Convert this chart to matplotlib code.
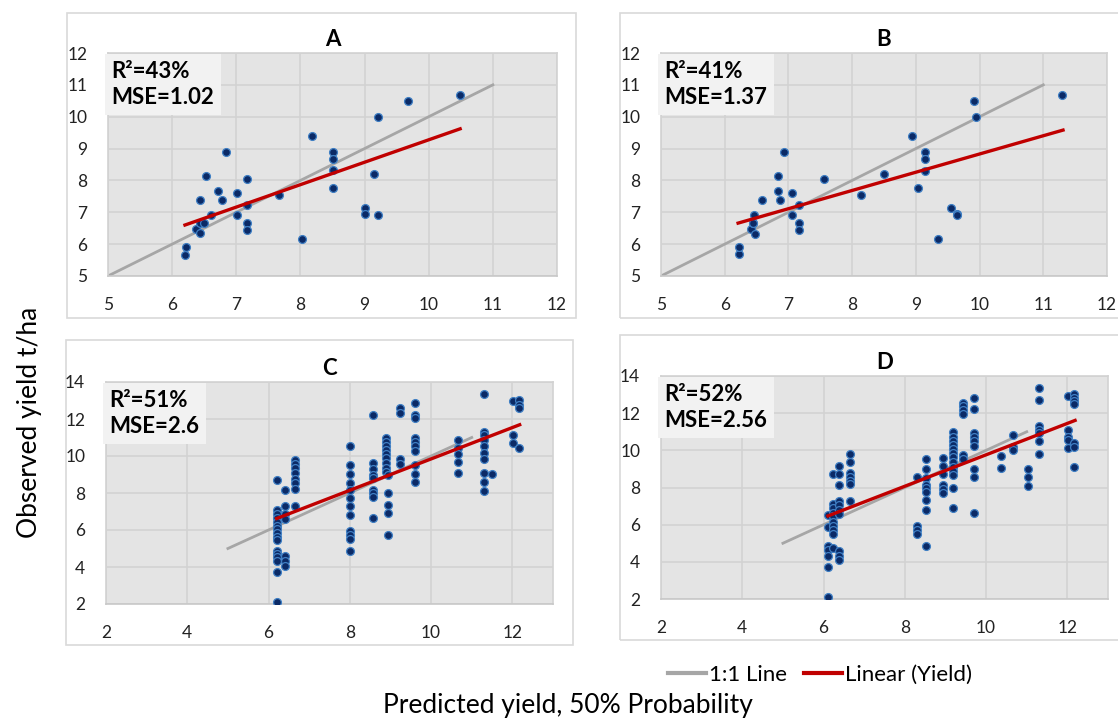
import numpy as np
import matplotlib
matplotlib.use('Agg')
import matplotlib.pyplot as plt
from matplotlib.patches import Rectangle
from matplotlib.lines import Line2D

plt.rcParams['font.family'] = ['Lato', 'DejaVu Sans']

# ---- data ----
panels = ['A', 'B', 'C', 'D']
r2_text = ['43%', '41%', '51%', '52%']
mse_text = ['1.02', '1.37', '2.6', '2.56']
one_to_one = [5, 11]

A_pred = [6.20, 6.21, 6.37, 6.43, 6.43, 6.49, 6.43, 6.53, 6.60, 6.71, 6.77, 6.84, 7.01, 7.01, 7.17, 7.17,
          7.17, 7.17, 7.66, 8.02, 8.18, 8.51, 8.51, 8.51, 8.51, 9.01, 9.01, 9.14, 9.21, 9.21, 9.68, 10.48]
A_obs = [5.66, 5.91, 6.48, 6.34, 6.66, 6.66, 7.38, 8.14, 6.91, 7.67, 7.38, 8.89, 7.59, 6.91, 8.05, 7.22,
         6.66, 6.44, 7.53, 6.16, 9.38, 8.89, 8.68, 8.32, 7.76, 7.15, 6.95, 8.19, 6.91, 9.98, 10.49, 10.68]

B_pred = [6.22, 6.23, 6.41, 6.44, 6.44, 6.46, 6.47, 6.59, 6.83, 6.84, 6.86, 6.93, 7.06, 7.06, 7.16, 7.16,
          7.16, 7.56, 8.14, 8.50, 8.94, 9.04, 9.15, 9.15, 9.15, 9.35, 9.55, 9.65, 9.65, 9.91, 9.94, 11.30]
B_obs = [5.68, 5.91, 6.48, 6.66, 6.66, 6.91, 6.32, 7.38, 8.14, 7.67, 7.38, 8.89, 7.59, 6.91, 7.24, 6.66,
         6.44, 8.05, 7.53, 8.19, 9.38, 7.76, 8.89, 8.68, 8.30, 6.16, 7.14, 6.96, 6.91, 10.49, 10.00, 10.68]

# C and D: predicted values fall in columns, observed listed per column
C_cols = [6.21, 6.41, 6.64, 8.00, 8.56, 8.88, 8.94, 9.23, 9.60, 10.66, 11.30, 11.51, 12.01, 12.16]
C_obs = [
    [8.72, 7.09, 6.85, 6.64, 6.44, 6.24, 6.04, 5.83, 5.61, 5.47, 4.89, 4.70, 4.52, 4.30, 3.71, 2.09],
    [8.18, 7.30, 6.85, 6.60, 4.57, 4.35, 4.08],
    [9.78, 9.55, 9.33, 9.10, 8.74, 8.52, 8.20, 7.30],
    [10.55, 9.51, 9.03, 8.56, 8.16, 7.71, 7.30, 6.82, 5.97, 5.74, 5.50, 4.84],
    [12.19, 9.62, 9.28, 8.97, 8.79, 8.16, 7.98, 7.77, 6.64],
    [10.98, 10.77, 10.55, 10.32, 10.10, 9.87, 9.64, 9.33, 9.15],
    [8.97, 7.98, 7.35, 6.94, 5.72],
    [12.60, 12.31, 9.82, 9.58],
    [12.84, 12.21, 12.03, 10.98, 10.77, 10.55, 10.27, 9.51, 9.03, 8.61],
    [10.89, 10.41, 10.10, 9.69, 9.10],
    [13.37, 11.31, 11.13, 10.89, 10.54, 10.18, 9.82, 9.10, 8.58, 8.09],
    [9.03],
    [12.98, 11.16, 10.68],
    [13.01, 12.78, 12.57, 10.45],
]

D_cols = [6.11, 6.23, 6.39, 6.64, 8.30, 8.51, 8.93, 9.18, 9.43, 9.71, 10.37, 10.66, 11.04, 11.31, 12.02, 12.17]
D_obs = [
    [6.53, 5.86, 4.86, 4.65, 4.33, 3.72, 2.09],
    [8.71, 7.10, 6.88, 6.62, 6.44, 6.17, 5.95, 5.72, 5.49, 4.74],
    [9.16, 8.71, 8.14, 7.28, 7.06, 6.79, 6.58, 4.56, 4.34, 4.08],
    [9.78, 9.39, 8.76, 8.58, 8.35, 8.17, 7.28],
    [8.55, 5.94, 5.72, 5.51],
    [9.51, 8.98, 8.53, 8.14, 7.96, 7.78, 7.33, 6.79, 4.86],
    [9.57, 9.17, 8.73, 8.14, 7.90, 7.72],
    [10.96, 10.73, 10.52, 10.28, 10.07, 9.84, 9.62, 9.39, 9.12, 8.91, 8.67, 7.99, 6.92],
    [12.57, 12.39, 12.16, 11.98, 9.75, 9.53],
    [12.79, 12.20, 10.94, 10.73, 10.52, 10.23, 9.00, 8.58, 6.62],
    [9.71, 9.07],
    [10.85, 10.16, 10.01],
    [8.99, 8.55, 8.08],
    [13.36, 12.70, 11.30, 11.09, 10.91, 10.50, 9.78],
    [12.93, 11.12, 10.73, 10.55, 10.10],
    [13.02, 12.84, 12.66, 12.52, 10.41, 10.19, 9.10],
]

# linear trend lines as drawn in the reference (start/end x and y)
trend_x = [[6.20, 10.49], [6.21, 11.31], [6.20, 12.18], [6.11, 12.19]]
trend_y = [[6.60, 9.62], [6.66, 9.58], [6.62, 11.69], [6.47, 11.61]]


def expand(cols, obs):
    x = [c for c, ys in zip(cols, obs) for _ in ys]
    y = [v for ys in obs for v in ys]
    return np.array(x), np.array(y)


C_pred, C_y = expand(C_cols, C_obs)
D_pred, D_y = expand(D_cols, D_obs)

series = [(np.array(A_pred), np.array(A_obs)), (np.array(B_pred), np.array(B_obs)),
          (C_pred, C_y), (D_pred, D_y)]

# ---- layout (figure pixels 1118 x 718) ----
W, H = 1118, 718
fig = plt.figure(figsize=(W / 100, H / 100), dpi=100)


def fx(px):
    return px / W


def fy(py):
    return 1 - py / H


# axes boxes in pixel coords (left, top, right, bottom)
ax_px = [(108, 53, 557, 276), (661, 53, 1107, 276), (106, 382, 553, 604), (661, 376, 1108, 599)]
frame_px = [(67, 13, 576, 318), (620, 13, 1130, 318), (66, 340, 573, 645), (620, 335, 1130, 640)]

lims = [((5, 12), (5, 12), range(5, 13), range(5, 13)),
        ((5, 12), (5, 12), range(5, 13), range(5, 13)),
        ((2, 13), (2, 14), range(2, 13, 2), range(2, 15, 2)),
        ((2, 13), (2, 14), range(2, 13, 2), range(2, 15, 2))]

for (l, t, r, b) in frame_px:
    fig.patches.append(Rectangle((fx(l), fy(b)), fx(r - l), (b - t) / H, transform=fig.transFigure,
                                 facecolor='none', edgecolor='#d9d9d9', linewidth=1.2, zorder=-1))

GRAY = '#a6a6a6'
RED = '#c00000'

for i, name in enumerate(panels):
    l, t, r, b = ax_px[i]
    ax = fig.add_axes([fx(l), fy(b), fx(r - l), (b - t) / H])
    ax.set_facecolor('#e4e4e4')
    xl, yl, xt, yt = lims[i]
    ax.set_xlim(*xl)
    ax.set_ylim(*yl)
    ax.set_xticks(list(xt))
    ax.set_yticks(list(yt))
    ax.grid(True, color='#d2d2d2', linewidth=1.2)
    ax.set_axisbelow(True)
    ax.tick_params(length=0, labelsize=12.5, colors='#222222')
    ax.tick_params(axis='x', pad=15)
    ax.tick_params(axis='y', pad=15)
    for s in ax.spines.values():
        s.set_color('#d2d2d2')
        s.set_linewidth(1.2)
    ax.spines['bottom'].set_color('#c8c8c8')

    x, y = series[i]
    ax.plot(one_to_one, one_to_one, color=GRAY, linewidth=2.0, zorder=2)
    ax.scatter(x, y, s=32, facecolor='#0b2a66', edgecolor='#3f7fc4', linewidth=0.9, zorder=3)
    ax.plot(trend_x[i], trend_y[i], color=RED, linewidth=2.4, zorder=4)

    ax.set_title(name, fontsize=16, fontweight='bold', pad=5)
    ax.text(0.008, 0.965, f'R\u00b2={r2_text[i]}\nMSE={mse_text[i]}', transform=ax.transAxes,
            ha='left', va='top', fontsize=16, fontweight='bold', linespacing=1.3, zorder=5,
            bbox=dict(boxstyle='square,pad=0.3', facecolor='#f2f2f2', edgecolor='none'))

fig.text(fx(30), fy(422), 'Observed yield t/ha', rotation=90, ha='center', va='center', fontsize=19)
fig.text(fx(568), fy(705), 'Predicted yield, 50% Probability', ha='center', va='center', fontsize=19)

handles = [Line2D([], [], color=GRAY, linewidth=3), Line2D([], [], color=RED, linewidth=3)]
fig.legend(handles, ['1:1 Line', 'Linear (Yield)'], loc='center', bbox_to_anchor=(fx(820), fy(675)),
           ncol=2, frameon=False, fontsize=16, handlelength=1.7, handletextpad=0.14, columnspacing=0.8)

fig.savefig('out.png', dpi=100)
